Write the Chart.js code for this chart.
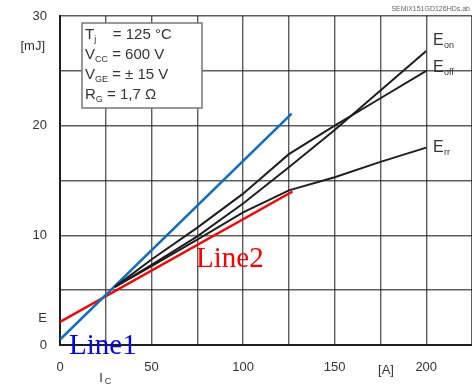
<!DOCTYPE html>
<html>
<head>
<meta charset="utf-8">
<script src="https://cdn.jsdelivr.net/npm/chart.js@4.4.0/dist/chart.umd.min.js"></script>
<style>
  body { margin: 0; background: #fff; }
  canvas { display: block; }
</style>
</head>
<body>
<canvas id="chart" width="472" height="389"></canvas>
<script>
// collector current [A] and switching energies [mJ]
const current = [30, 50, 75, 100, 125, 150, 175, 200];
const eOn  = [5.3, 7.3, 9.9, 12.9, 16.2, 19.6, 23.2, 26.8];
const eOff = [5.3, 7.8, 10.7, 13.8, 17.4, 20.0, 22.5, 25.0];
const eRr  = [5.3, 7.2, 9.6, 12.1, 14.1, 15.3, 16.7, 18.0];

// tangent lines drawn over the curves
const line1X = [0, 126.5];
const line1Y = [0.5, 21.1];
const line2X = [0, 127];
const line2Y = [2.1, 14.0];

const xTicks = [0, 50, 100, 150, 200];
const yTicks = [0, 10, 20, 30];
const conditions = [
  ['T', 'j', '    = 125 °C'],
  ['V', 'CC', ' = 600 V'],
  ['V', 'GE', ' = ± 15 V'],
  ['R', 'G', ' = 1,7 Ω']
];

const pts = (xs, ys) => xs.map((x, i) => ({ x: x, y: ys[i] }));

const black = '#1e1e1e';
const gridColor = 'rgba(30,30,30,0.72)';

const labelsPlugin = {
  id: 'labels',
  afterDraw(chart) {
    const ctx = chart.ctx;
    const xs = chart.scales.x, ys = chart.scales.y;
    ctx.save();
    ctx.fillStyle = '#333';
    ctx.font = '13px "Liberation Sans", Arial, sans-serif';
    ctx.textBaseline = 'middle';

    // y tick labels
    ctx.textAlign = 'right';
    yTicks.forEach(v => ctx.fillText(String(v), 47, ys.getPixelForValue(v)));
    ctx.fillText('[mJ]', 45, 46);
    ctx.fillText('E', 47, 318);

    // x tick labels
    ctx.textAlign = 'center';
    xTicks.forEach(v => ctx.fillText(String(v), xs.getPixelForValue(v), 367));
    ctx.fillText('[A]', 386, 370);
    ctx.fillText('I', 101, 378);
    ctx.font = '9px "Liberation Sans", Arial, sans-serif';
    ctx.fillText('C', 108, 382);

    // caption
    ctx.font = '7px "Liberation Sans", Arial, sans-serif';
    ctx.textAlign = 'right';
    ctx.fillStyle = '#666';
    ctx.fillText('SEMiX151GD126HDs.ab', 470, 9);

    // conditions box
    ctx.fillStyle = '#fff';
    ctx.fillRect(82, 23, 120, 85);
    ctx.strokeStyle = '#777';
    ctx.lineWidth = 1.5;
    ctx.strokeRect(82, 23, 120, 85);
    ctx.fillStyle = '#333';
    ctx.textAlign = 'left';
    ctx.textBaseline = 'alphabetic';
    conditions.forEach((c, i) => {
      const y = 39 + i * 20;
      ctx.font = '15px "Liberation Sans", Arial, sans-serif';
      ctx.fillText(c[0], 85, y);
      let w = ctx.measureText(c[0]).width;
      ctx.font = '9px "Liberation Sans", Arial, sans-serif';
      ctx.fillText(c[1], 85 + w, y + 3);
      w += ctx.measureText(c[1]).width;
      ctx.font = '15px "Liberation Sans", Arial, sans-serif';
      ctx.fillText(c[2], 85 + w, y);
    });

    // curve labels
    [['on', 45], ['off', 72], ['rr', 152]].forEach(l => {
      ctx.font = '16px "Liberation Sans", Arial, sans-serif';
      ctx.fillText('E', 433, l[1]);
      ctx.font = '9px "Liberation Sans", Arial, sans-serif';
      ctx.fillText(l[0], 444, l[1] + 3);
    });

    // tangent line names
    ctx.font = '29px "Liberation Serif", "Times New Roman", serif';
    ctx.fillStyle = '#0000ff';
    ctx.fillText('Line1', 69, 354);
    ctx.fillStyle = '#ff0000';
    ctx.fillText('Line2', 196, 267);
    ctx.restore();
  }
};

new Chart(document.getElementById('chart'), {
  type: 'line',
  data: {
    datasets: [
      { data: pts(current, eOn), borderColor: black, borderWidth: 2 },
      { data: pts(current, eOff), borderColor: black, borderWidth: 2 },
      { data: pts(current, eRr), borderColor: black, borderWidth: 2 },
      { data: pts(line1X, line1Y), borderColor: '#0a6fc2', borderWidth: 2.5 },
      { data: pts(line2X, line2Y), borderColor: '#ff0000', borderWidth: 2.5 }
    ]
  },
  options: {
    responsive: false,
    animation: false,
    devicePixelRatio: 1,
    layout: { padding: { left: 60, top: 16, right: 0, bottom: 44 } },
    elements: { point: { radius: 0 }, line: { tension: 0 } },
    plugins: { legend: { display: false }, tooltip: { enabled: false } },
    scales: {
      x: {
        type: 'linear', min: 0, max: 225,
        ticks: { display: false, stepSize: 25 },
        grid: { color: gridColor, lineWidth: 1.4, drawTicks: false },
        border: { color: black, width: 2 }
      },
      y: {
        min: 0, max: 30,
        ticks: { display: false, stepSize: 5 },
        grid: { color: gridColor, lineWidth: 1.4, drawTicks: false },
        border: { color: black, width: 2 }
      }
    }
  },
  plugins: [labelsPlugin]
});
</script>
</body>
</html>
